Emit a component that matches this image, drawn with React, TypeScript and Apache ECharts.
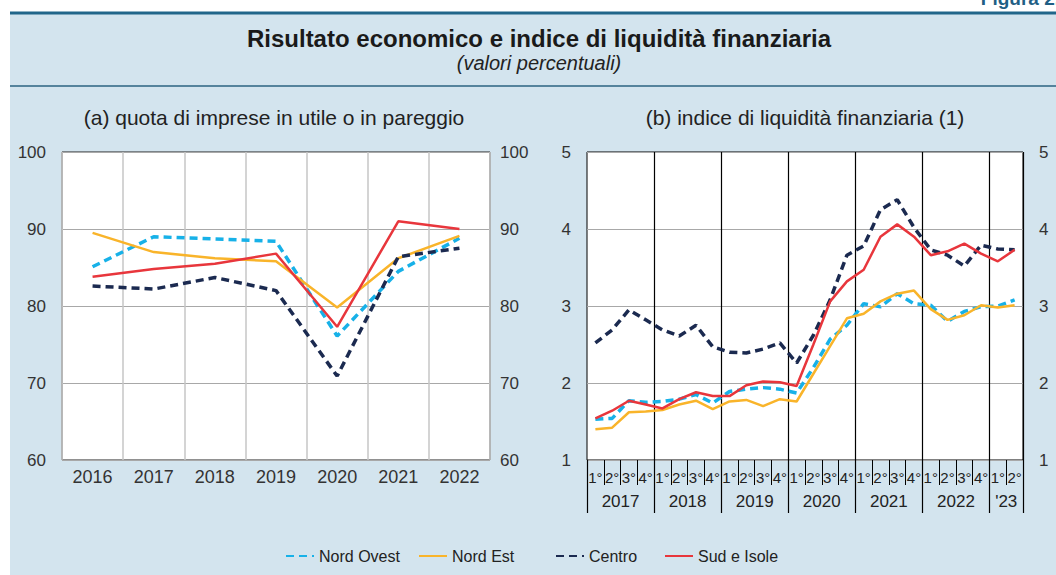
import React, { useEffect, useRef } from "react";
import * as echarts from "echarts";

const FONT = "'Liberation Sans', Arial, Helvetica, sans-serif";

// Panel (a): quota di imprese in utile o in pareggio
const years = ["2016", "2017", "2018", "2019", "2020", "2021", "2022"];
const quotaNordOvest = [85.1, 89.0, 88.7, 88.4, 76.1, 84.5, 88.8];
const quotaNordEst = [89.5, 87.0, 86.2, 85.8, 79.8, 86.2, 89.1];
const quotaCentro = [82.6, 82.2, 83.7, 82.0, 70.9, 86.4, 87.5];
const quotaSud = [83.8, 84.8, 85.5, 86.8, 77.3, 91.0, 90.0];

// Panel (b): indice di liquidità finanziaria, 2017Q1 - 2023Q2
const quarters = [
  "1°", "2°", "3°", "4°", "1°", "2°", "3°", "4°", "1°", "2°", "3°", "4°",
  "1°", "2°", "3°", "4°", "1°", "2°", "3°", "4°", "1°", "2°", "3°", "4°",
  "1°", "2°",
];
// labels placed on quarter boundaries (27 points)
const yearBoundaryLabels = [
  "", "", "2017", "", "", "", "2018", "", "", "", "2019", "", "", "", "2020", "",
  "", "", "2021", "", "", "", "2022", "", "", "'23", "",
];
const liqNordOvest = [1.53, 1.54, 1.77, 1.75, 1.76, 1.79, 1.85, 1.74, 1.89, 1.92, 1.94, 1.92, 1.87, 2.2, 2.57, 2.75, 3.03, 2.99, 3.16, 3.03, 3.01, 2.8, 2.93, 2.99, 3.0, 3.08];
const liqNordEst = [1.4, 1.42, 1.62, 1.63, 1.65, 1.72, 1.77, 1.66, 1.76, 1.78, 1.7, 1.79, 1.76, 2.12, 2.48, 2.84, 2.9, 3.06, 3.16, 3.2, 2.96, 2.82, 2.88, 3.01, 2.98, 3.01];
const liqCentro = [2.52, 2.69, 2.95, 2.82, 2.69, 2.61, 2.75, 2.47, 2.4, 2.39, 2.44, 2.52, 2.26, 2.62, 3.08, 3.66, 3.78, 4.25, 4.38, 4.02, 3.73, 3.66, 3.52, 3.79, 3.74, 3.73];
const liqSud = [1.54, 1.64, 1.77, 1.72, 1.67, 1.79, 1.88, 1.83, 1.83, 1.97, 2.02, 2.01, 1.96, 2.5, 3.06, 3.32, 3.47, 3.9, 4.06, 3.9, 3.66, 3.71, 3.81, 3.68, 3.58, 3.73];

const seriesDefs = [
  { name: "Nord Ovest", color: "#17b1e8", dashed: true, width: 3.5 },
  { name: "Nord Est", color: "#f9b42a", dashed: false, width: 2.5 },
  { name: "Centro", color: "#1b2a50", dashed: true, width: 3.5 },
  { name: "Sud e Isole", color: "#e8363c", dashed: false, width: 2.5 },
];
const legendLeft = [280, 413, 550, 659];

export default function App() {
  const ref = useRef<HTMLDivElement>(null);
  useEffect(() => {
    if (!ref.current) return;
    const chart = echarts.init(ref.current, undefined, { renderer: "svg" });
    const quotaData = [quotaNordOvest, quotaNordEst, quotaCentro, quotaSud];
    const liqData = [liqNordOvest, liqNordEst, liqCentro, liqSud];

    const mkLine = (d: any) => ({
      color: d.color,
      width: d.width,
      type: d.dashed ? [8, 5] : "solid",
    });

    const series: any[] = [];
    seriesDefs.forEach((d, i) => {
      series.push({
        name: d.name,
        type: "line",
        xAxisIndex: 0,
        yAxisIndex: 0,
        data: quotaData[i],
        symbol: "none",
        color: d.color,
        lineStyle: mkLine(d),
        z: 3,
      });
      series.push({
        name: d.name,
        type: "line",
        xAxisIndex: 1,
        yAxisIndex: 2,
        data: liqData[i],
        symbol: "none",
        color: d.color,
        lineStyle: mkLine(d),
        z: 3,
      });
    });

    const yLabel = { color: "#333", fontSize: 17, fontFamily: FONT };

    const option: any = {
      animation: false,
      backgroundColor: "#ffffff",
      textStyle: { fontFamily: FONT },
      graphic: [
        {
          type: "rect",
          shape: { x: 10, y: 13, width: 1046, height: 562 },
          style: { fill: "#d3e4ee" },
          z: -10,
        },
        {
          type: "line",
          shape: { x1: 10, y1: 13, x2: 1056, y2: 13 },
          style: { stroke: "#21668a", lineWidth: 3 },
        },
        {
          type: "line",
          shape: { x1: 10, y1: 86, x2: 1056, y2: 86 },
          style: { stroke: "#55839c", lineWidth: 2 },
        },
        {
          type: "text",
          x: 1060,
          y: 8,
          style: {
            text: "Figura 2.",
            fill: "#1f5f85",
            font: `bold 19px ${FONT}`,
            textAlign: "right",
            textVerticalAlign: "bottom",
          },
        },
        {
          type: "text",
          x: 539,
          y: 38,
          style: {
            text: "Risultato economico e indice di liquidità finanziaria",
            fill: "#1a1a1a",
            font: `bold 24px ${FONT}`,
            textAlign: "center",
            textVerticalAlign: "middle",
          },
        },
        {
          type: "text",
          x: 539,
          y: 63,
          style: {
            text: "(valori percentuali)",
            fill: "#222",
            font: `italic 20px ${FONT}`,
            textAlign: "center",
            textVerticalAlign: "middle",
          },
        },
        {
          type: "text",
          x: 274,
          y: 117,
          style: {
            text: "(a) quota di imprese in utile o in pareggio",
            fill: "#222",
            font: `21px ${FONT}`,
            textAlign: "center",
            textVerticalAlign: "middle",
          },
        },
        {
          type: "text",
          x: 805,
          y: 117,
          style: {
            text: "(b) indice di liquidità finanziaria (1)",
            fill: "#222",
            font: `21px ${FONT}`,
            textAlign: "center",
            textVerticalAlign: "middle",
          },
        },
      ],
      legend: seriesDefs.map((d, i) => ({
        data: [d.name],
        left: legendLeft[i],
        top: 543,
        itemWidth: 28,
        itemHeight: 14,
        itemGap: 4,
        itemStyle: { opacity: 0 },
        textStyle: { color: "#222", fontSize: 16, fontFamily: FONT },
        selectedMode: false,
      })),
      grid: [
        {
          left: 62,
          top: 152,
          width: 428,
          height: 308,
          show: true,
          backgroundColor: "#ffffff",
          borderColor: "#222",
          borderWidth: 1,
        },
        {
          left: 587,
          top: 152,
          width: 436,
          height: 308,
          show: true,
          backgroundColor: "#ffffff",
          borderColor: "#000",
          borderWidth: 1,
        },
      ],
      xAxis: [
        {
          type: "category",
          gridIndex: 0,
          data: years,
          boundaryGap: true,
          axisLine: { show: false },
          axisTick: { show: false },
          axisLabel: { color: "#333", fontSize: 18, fontFamily: FONT, margin: 8, interval: 0 },
          splitLine: {
            show: true,
            interval: 0,
            lineStyle: { color: "#c6c6c6", width: 1.5 },
          },
        },
        {
          type: "category",
          gridIndex: 1,
          data: quarters,
          boundaryGap: true,
          axisLine: { show: false },
          axisTick: {
            show: true,
            interval: 0,
            length: 25,
            lineStyle: { color: "#000", width: 1 },
          },
          axisLabel: {
            color: "#222",
            fontSize: 15,
            fontFamily: FONT,
            margin: 10,
            interval: 0,
          },
          splitLine: {
            show: true,
            interval: (i: number) => i % 4 === 0 && i > 0,
            lineStyle: { color: "#000", width: 1.2 },
          },
        },
        {
          type: "category",
          gridIndex: 1,
          data: yearBoundaryLabels,
          boundaryGap: false,
          position: "bottom",
          axisLine: { show: false },
          axisTick: {
            show: true,
            interval: (i: number) => i % 4 === 0 || i === 26,
            length: 53,
            lineStyle: { color: "#000", width: 1.2 },
          },
          axisLabel: {
            color: "#222",
            fontSize: 17,
            fontFamily: FONT,
            margin: 33,
            interval: 0,
          },
          splitLine: { show: false },
        },
      ],
      yAxis: [
        {
          type: "value",
          gridIndex: 0,
          min: 60,
          max: 100,
          interval: 10,
          position: "left",
          axisLine: { show: false },
          axisTick: { show: false },
          axisLabel: { ...yLabel, margin: 16 },
          splitLine: { show: true, lineStyle: { color: "#a8a8a8", width: 1 } },
        },
        {
          type: "value",
          gridIndex: 0,
          min: 60,
          max: 100,
          interval: 10,
          position: "right",
          axisLine: { show: false },
          axisTick: { show: false },
          axisLabel: { ...yLabel, margin: 10 },
          splitLine: { show: false },
        },
        {
          type: "value",
          gridIndex: 1,
          min: 1,
          max: 5,
          interval: 1,
          position: "left",
          axisLine: { show: false },
          axisTick: { show: false },
          axisLabel: { ...yLabel, margin: 16 },
          splitLine: { show: true, lineStyle: { color: "#a8a8a8", width: 1 } },
        },
        {
          type: "value",
          gridIndex: 1,
          min: 1,
          max: 5,
          interval: 1,
          position: "right",
          axisLine: { show: false },
          axisTick: { show: false },
          axisLabel: { ...yLabel, margin: 16 },
          splitLine: { show: false },
        },
      ],
      series,
    };
    chart.setOption(option);
    return () => chart.dispose();
  }, []);
  return (
    <div
      ref={ref}
      style={{ position: "absolute", left: 0, top: 0, width: 1056, height: 575 }}
    />
  );
}
